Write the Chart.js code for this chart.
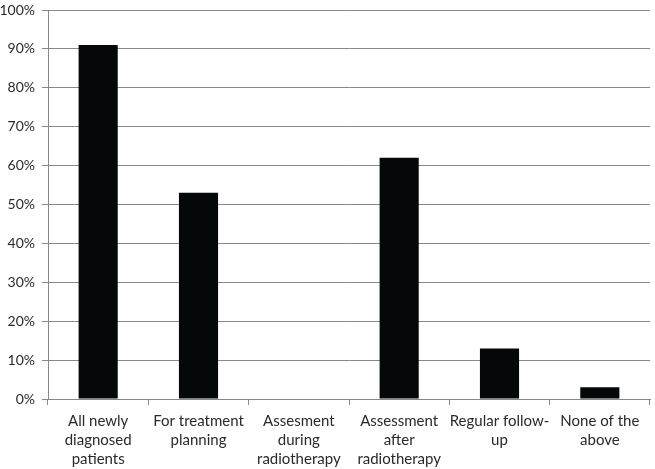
<!DOCTYPE html>
<html>
<head>
<meta charset="utf-8">
<script src="https://cdn.jsdelivr.net/npm/chart.js@4/dist/chart.umd.min.js"></script>
<style>
  html, body { margin: 0; padding: 0; background: #fff; }
  #wrap { width: 655px; height: 469px; }
</style>
</head>
<body>
<div id="wrap"><canvas id="barChart" width="655" height="469"></canvas></div>
<script>
// categories (multi-line labels) and values in percent
var labels = [
	['All newly', 'diagnosed', 'patients'],
	['For treatment', 'planning'],
	['Assesment', 'during', 'radiotherapy'],
	['Assessment', 'after', 'radiotherapy'],
	['Regular follow-', 'up'],
	['None of the', 'above']
]
var percentData = [91, 53, 0, 62, 13, 3]
var yTicks = [0, 10, 20, 30, 40, 50, 60, 70, 80, 90, 100]

var ctx = document.getElementById('barChart').getContext('2d');
var myBarChart = new Chart(ctx, {
	type: 'bar',
	data: {
		labels: labels,
		datasets: [{
			data: percentData,
			backgroundColor: '#050808',
			borderWidth: 0,
			categoryPercentage: 1,
			barPercentage: 0.39
		}]
	},
	options: {
		responsive: false,
		animation: false,
		layout: { padding: { top: 10, right: 5, left: 0, bottom: 0 } },
		plugins: {
			legend: { display: false },
			tooltip: { enabled: false }
		},
		scales: {
			x: {
				grid: {
					offset: true,
					drawOnChartArea: false,
					drawTicks: true,
					tickLength: 6,
					color: '#888'
				},
				border: { color: '#888', width: 1 },
				ticks: {
					color: '#2a2a2a',
					padding: 7,
					maxRotation: 0,
					autoSkip: false,
					font: { family: 'Lato', size: 15, lineHeight: 1.27 }
				},
				afterFit: function (axis) { axis.height = 70 }
			},
			y: {
				min: 0,
				max: 100,
				afterBuildTicks: function (axis) {
					axis.ticks = yTicks.map(function (v) { return { value: v } })
				},
				grid: {
					color: '#888',
					tickLength: 6,
					lineWidth: 1
				},
				border: { color: '#888', width: 1 },
				ticks: {
					color: '#2a2a2a',
					padding: 7,
					font: { family: 'Lato', size: 14 },
					callback: function (v) { return v + '%' }
				},
				afterFit: function (axis) {
					axis.width = 48
					axis.paddingTop = 0
				}
			}
		}
	}
});
</script>
</body>
</html>
